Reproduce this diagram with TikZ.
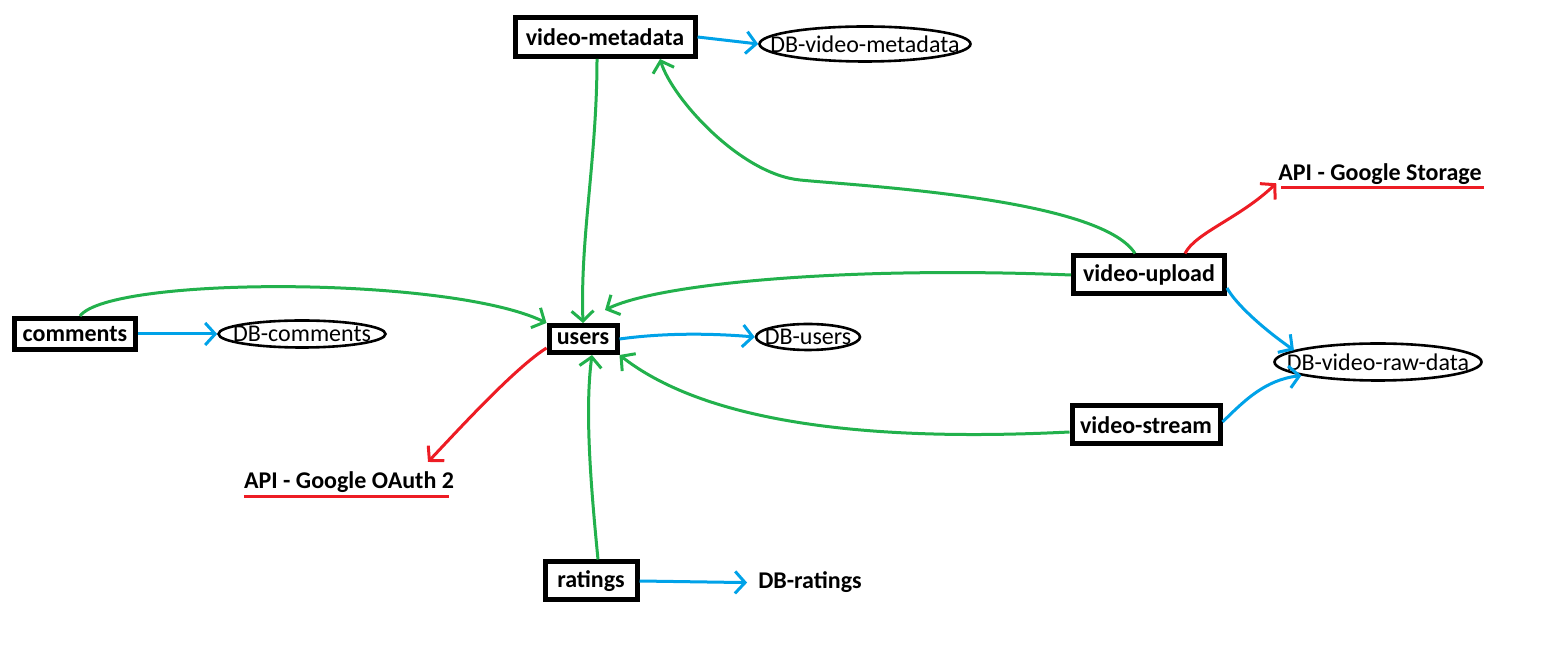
\documentclass[tikz,border=0pt]{standalone}
\usepackage{fontspec}
\setmainfont{Carlito}
\usetikzlibrary{arrows.meta}
\usetikzlibrary{shapes.geometric}

\definecolor{pgreen}{RGB}{34,177,76}
\definecolor{pblue}{RGB}{0,162,232}
\definecolor{pred}{RGB}{237,28,36}

% text of a db ellipse may stick out of it
\newcommand{\dbtext}[1]{\makebox[0pt]{#1}}

\tikzset{
  svcbox/.style={draw, line width=5pt, inner sep=0pt, font=\fontsize{24}{28}\selectfont\bfseries},
  dbshape/.style={draw, ellipse, line width=2.6pt, inner sep=0pt, font=\fontsize{24}{28}\selectfont},
  plainlabel/.style={inner sep=0pt, anchor=base, font=\fontsize{24}{28}\selectfont\bfseries},
  link/.style={line width=3pt, -{Straight Barb[length=10pt,width=22pt]}},
}

\begin{document}
\begin{tikzpicture}[x=1pt,y=1pt]
\useasboundingbox (0,0) rectangle (1552,658);

% services
\node[svcbox, minimum width=180pt, minimum height=39pt] (vmeta) at (605,621) {video-metadata};
\node[svcbox, minimum width=121pt, minimum height=31pt] (comments) at (75,324) {comments};
\node[svcbox, minimum width=68pt, minimum height=27pt] (users) at (583,319) {users};
\node[svcbox, minimum width=151pt, minimum height=38pt] (vupload) at (1149,383) {video-upload};
\node[svcbox, minimum width=148pt, minimum height=38pt] (vstream) at (1146,233) {video-stream};
\node[svcbox, minimum width=92pt, minimum height=38pt] (ratings) at (591,77) {ratings};

% databases
\node[dbshape, minimum width=211pt, minimum height=35pt] (dbvmeta) at (865,614) {\dbtext{DB-video-metadata}};
\node[dbshape, minimum width=167pt, minimum height=27pt] (dbcomments) at (302,324) {\dbtext{DB-comments}};
\node[dbshape, minimum width=104pt, minimum height=26pt] (dbusers) at (808,321) {\dbtext{DB-users}};
\node[dbshape, minimum width=207pt, minimum height=37pt] (dbraw) at (1378,296) {\dbtext{DB-video-raw-data}};
\node[plainlabel] (dbratings) at (810,69) {DB-ratings};

% external apis
\node[plainlabel] (gstorage) at (1380,477) {API - Google Storage};
\node[plainlabel] (oauth) at (349,169) {API - Google OAuth 2};
\draw[pred, line width=3pt] ([xshift=3pt,yshift=-2pt]gstorage.south west) -- ([xshift=2pt,yshift=-2pt]gstorage.south east);
\draw[pred, line width=3pt] ([yshift=-3pt]oauth.south west) -- ([xshift=-5pt,yshift=-3pt]oauth.south east);

% storage links
\draw[link,pblue] (vmeta.east) -- (dbvmeta.west);
\draw[link,pblue] (comments.east) -- (dbcomments.west);
\draw[link,pblue] (users.east) .. controls (670,326) and (720,324) .. (dbusers.west);
\draw[link,pblue] (ratings.east) -- ([xshift=-11pt]dbratings.west);
\draw[link,pblue] ([yshift=-13pt]vupload.east) .. controls (1235,355) and (1262,330) .. (dbraw.172);
\draw[link,pblue] ([yshift=3pt]vstream.east) .. controls (1245,258) and (1265,278) .. (dbraw.190);

% service calls
\draw[link,pgreen] ([xshift=-8pt]vmeta.south) .. controls (597,500) and (580,420) .. (users.north);
\draw[link,pgreen] ([xshift=5pt]comments.north) .. controls (110,382) and (450,382) .. (users.north west);
\draw[link,pgreen] ([xshift=-14pt]vupload.north) .. controls (1100,460) and (860,472) .. (800,478)
  .. controls (740,484) and (672,560) .. ([xshift=55pt]vmeta.south);
\draw[link,pgreen] (vupload.west) .. controls (850,392) and (660,375) .. ([shift={(22pt,13pt)}]users.north);
\draw[link,pgreen] ([yshift=-7pt]vstream.west) .. controls (850,215) and (700,240) .. (users.south east);
\draw[link,pgreen] ([xshift=7pt]ratings.north) .. controls (590,180) and (585,250) .. ([xshift=9pt]users.south);

% api calls
\draw[link,pred] ([yshift=-9pt]users.west) .. controls (515,290) and (460,230) .. ([xshift=79pt,yshift=10pt]oauth.north);
\draw[link,pred] ([xshift=36pt]vupload.north) .. controls (1195,425) and (1240,440) .. ([xshift=-2pt,yshift=2pt]gstorage.south west);
\end{tikzpicture}
\end{document}
